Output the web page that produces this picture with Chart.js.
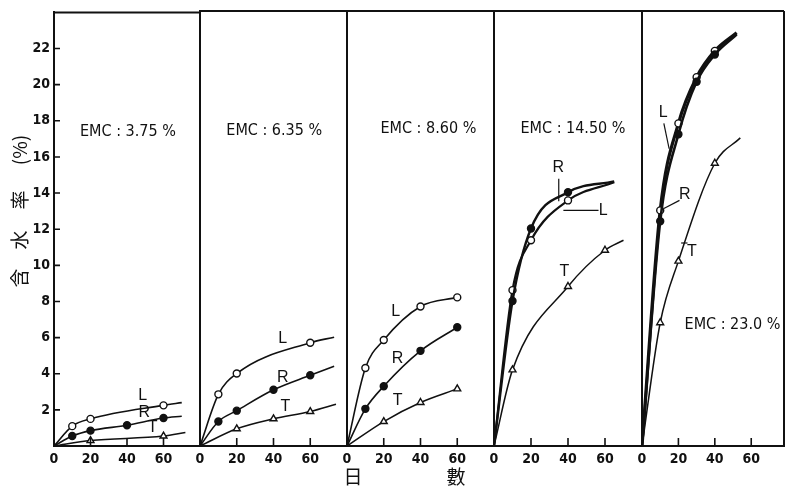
<!DOCTYPE html>
<html>
<head>
<meta charset="utf-8">
<script src="https://cdn.jsdelivr.net/npm/chart.js@4.4.1/dist/chart.umd.min.js"></script>
<style>
  html, body { margin: 0; background: #fff; }
  #wrap { position: relative; width: 786px; height: 486px; overflow: hidden; }
  .panel { position: absolute; top: 0; }
</style>
</head>
<body>
<div id="wrap"></div>
<script>
// moisture content vs. days, one panel per EMC condition (L, R, T directions)
var emcLabels = ["EMC : 3.75 %", "EMC : 6.35 %", "EMC : 8.60 %", "EMC : 14.50 %", "EMC : 23.0 %"];
var dayTicks = [0, 20, 40, 60];
var moistureTicks = [2, 4, 6, 8, 10, 12, 14, 16, 18, 20, 22];

var lDays = [[10, 20, 60], [10, 20, 60], [10, 20, 40, 60], [10, 20, 40], [10, 20, 30, 40]];
var lValues = [[1.1, 1.5, 2.25], [2.85, 4.0, 5.7], [4.3, 5.85, 7.7, 8.2], [8.6, 11.35, 13.55], [13.0, 17.8, 20.35, 21.8]];
var lEnds = [[70, 2.4], [73, 6.0], null, [65, 14.55], [52, 22.8]];

var rDays = [[10, 20, 40, 60], [10, 20, 40, 60], [10, 20, 40, 60], [10, 20, 40], [10, 20, 30, 40]];
var rValues = [[0.55, 0.85, 1.15, 1.55], [1.35, 1.95, 3.1, 3.9], [2.05, 3.3, 5.25, 6.55], [8.0, 12.0, 14.0], [12.4, 17.2, 20.1, 21.6]];
var rEnds = [[70, 1.65], [73, 4.4], null, [65, 14.6], [52, 22.7]];

var tDays = [[20, 60], [20, 40, 60], [20, 40, 60], [10, 40, 60], [10, 20, 40]];
var tValues = [[0.3, 0.55], [0.95, 1.5, 1.9], [1.35, 2.4, 3.15], [4.2, 8.8, 10.8], [6.8, 10.2, 15.6]];
var tEnds = [[72, 0.75], [74, 2.3], null, [70, 11.35], [54, 17.0]];

// panel layout in page pixels
var panelLeft = [54, 200, 347, 494, 642];
var panelRight = [200, 347, 494, 642, 784];
var xMax = [80, 80, 80, 80, 78];
var lineWidths = [[1.6, 1.6, 1.5], [1.6, 1.6, 1.5], [1.6, 1.6, 1.5], [2.2, 2.4, 1.5], [3.2, 2.6, 1.5]];

// where the EMC caption and curve letters sit, in data units
var emcPos = [[40.5, 17.4], [40.4, 17.4], [44.3, 17.5], [42.7, 17.5], [49.7, 6.7]];
var curveNotes = [
  [{ t: "L", x: 48.6, y: 2.8 }, { t: "R", x: 49.5, y: 1.85 }, { t: "T", x: 54, y: 1.0 }],
  [{ t: "L", x: 45, y: 5.95 }, { t: "R", x: 45, y: 3.8 }, { t: "T", x: 46.5, y: 2.2 }],
  [{ t: "L", x: 26.5, y: 7.4 }, { t: "R", x: 27.5, y: 4.85 }, { t: "T", x: 27.5, y: 2.5 }],
  [{ t: "R", x: 34.8, y: 15.35, lead: [[35, 14.75], [35, 13.5]] },
   { t: "L", x: 59, y: 13.0, lead: [[37.5, 13.0], [56.5, 13.0]] },
   { t: "T", x: 38, y: 9.65 }],
  [{ t: "L", x: 11.6, y: 18.4, lead: [[12, 17.8], [14.9, 16.4]] },
   { t: "R", x: 23.5, y: 13.85, lead: [[12, 13.1], [20.6, 13.55]] },
   { t: "T", x: 27.4, y: 10.75, lead: [[21.5, 11.2], [25, 11.2]] }]
];

function buildPoints(days, values, end) {
  var pts = [{ x: 0, y: 0, m: false }];
  days.forEach(function (d, k) { pts.push({ x: d, y: values[k], m: true }); });
  if (end) pts.push({ x: end[0], y: end[1], m: false });
  return pts;
}

var wrap = document.getElementById("wrap");
var numFont = { family: '"Liberation Sans Narrow", "DejaVu Sans Condensed", "Liberation Sans", sans-serif', size: 14, weight: "bold" };

for (let i = 0; i < 5; i++) {
  var axisW = i === 0 ? 54 : 14;
  var canvasLeft = panelLeft[i] - axisW;
  var padRight = i === 4 ? 2 : 0;
  var w = panelRight[i] - canvasLeft + padRight;

  var box = document.createElement("div");
  box.className = "panel";
  box.style.left = canvasLeft + "px";
  var cv = document.createElement("canvas");
  cv.width = w;
  cv.height = 486;
  box.appendChild(cv);
  wrap.appendChild(box);

  var markerStyle = function (shape, fill) {
    return {
      pointStyle: shape,
      pointBackgroundColor: fill,
      pointBorderColor: "#111",
      pointBorderWidth: 1.4,
      pointRadius: function (c) { return c.raw && c.raw.m ? (shape === "triangle" ? 4 : 3.5) : 0; }
    };
  };

  var datasets = [
    Object.assign({ label: "T", data: buildPoints(tDays[i], tValues[i], tEnds[i]), borderWidth: lineWidths[i][2] }, markerStyle("triangle", "#fff")),
    Object.assign({ label: "R", data: buildPoints(rDays[i], rValues[i], rEnds[i]), borderWidth: lineWidths[i][1] }, markerStyle("circle", "#111")),
    Object.assign({ label: "L", data: buildPoints(lDays[i], lValues[i], lEnds[i]), borderWidth: lineWidths[i][0] }, markerStyle("circle", "#fff"))
  ];
  datasets.forEach(function (ds) {
    ds.borderColor = "#111";
    ds.cubicInterpolationMode = "monotone";
    ds.fill = false;
  });

  new Chart(cv.getContext("2d"), {
    type: "line",
    data: { datasets: datasets },
    options: {
      responsive: false,
      devicePixelRatio: 1,
      animation: false,
      layout: { autoPadding: false, padding: { top: 11, right: padRight, left: 0, bottom: 0 } },
      plugins: { legend: { display: false }, tooltip: { enabled: false } },
      scales: {
        x: {
          type: "linear",
          min: 0,
          max: xMax[i],
          afterBuildTicks: function (s) { s.ticks = dayTicks.map(function (v) { return { value: v }; }); },
          afterFit: function (s) { s.height = 40; },
          grid: { display: false, drawTicks: false },
          border: { display: true, color: "#111", width: 2 },
          ticks: { color: "#111", font: numFont, padding: 5, maxRotation: 0, autoSkip: false }
        },
        y: {
          min: 0,
          max: 24,
          afterBuildTicks: function (s) { s.ticks = moistureTicks.map(function (v) { return { value: v }; }); },
          afterFit: (function (aw) { return function (s) { s.width = aw; }; })(axisW),
          grid: { display: false, drawTicks: false },
          border: { display: true, color: "#111", width: 2 },
          ticks: { display: i === 0, color: "#111", font: numFont, padding: 4 }
        }
      }
    },
    plugins: [{
      id: "frameAndNotes",
      afterDraw: function (chart) {
        var ctx = chart.ctx, a = chart.chartArea;
        var xs = chart.scales.x, ys = chart.scales.y;
        ctx.save();
        ctx.strokeStyle = "#111";
        ctx.fillStyle = "#111";
        ctx.lineWidth = 2;
        ctx.beginPath();
        ctx.moveTo(a.left - 1, a.top);
        ctx.lineTo(a.right, a.top);
        if (i === 4) { ctx.moveTo(a.right, a.top); ctx.lineTo(a.right, a.bottom); }
        ctx.stroke();

        // inward tick marks
        ctx.lineWidth = 1.6;
        ctx.beginPath();
        dayTicks.slice(1).forEach(function (v) {
          var px = xs.getPixelForValue(v);
          ctx.moveTo(px, a.bottom);
          ctx.lineTo(px, a.bottom - 8);
        });
        if (i === 0) {
          moistureTicks.forEach(function (v) {
            var py = ys.getPixelForValue(v);
            ctx.moveTo(a.left, py);
            ctx.lineTo(a.left + 6, py);
          });
        }
        ctx.stroke();

        ctx.textAlign = "center";
        ctx.textBaseline = "middle";
        ctx.font = '16px "Liberation Sans Narrow", "DejaVu Sans Condensed", "Liberation Sans", sans-serif';
        ctx.fillText(emcLabels[i], xs.getPixelForValue(emcPos[i][0]), ys.getPixelForValue(emcPos[i][1]));

        ctx.font = '16px "Liberation Sans", sans-serif';
        ctx.lineWidth = 1.2;
        curveNotes[i].forEach(function (n) {
          ctx.fillText(n.t, xs.getPixelForValue(n.x), ys.getPixelForValue(n.y));
          if (n.lead) {
            ctx.beginPath();
            ctx.moveTo(xs.getPixelForValue(n.lead[0][0]), ys.getPixelForValue(n.lead[0][1]));
            ctx.lineTo(xs.getPixelForValue(n.lead[1][0]), ys.getPixelForValue(n.lead[1][1]));
            ctx.stroke();
          }
        });

        ctx.font = '19px "Noto Sans CJK JP", sans-serif';
        if (i === 0) {
          // axis title, written sideways
          ctx.translate(20, 212);
          ctx.rotate(-Math.PI / 2);
          [["含", -66], ["水", -28], ["率", 12], ["(%)", 62]].forEach(function (p) {
            ctx.fillText(p[0], p[1], 0);
          });
        }
        if (i === 2) {
          ctx.fillText("日", a.left + 6, 477);
          ctx.fillText("數", a.left + 109, 477);
        }
        ctx.restore();
      }
    }]
  });
}
</script>
</body>
</html>
